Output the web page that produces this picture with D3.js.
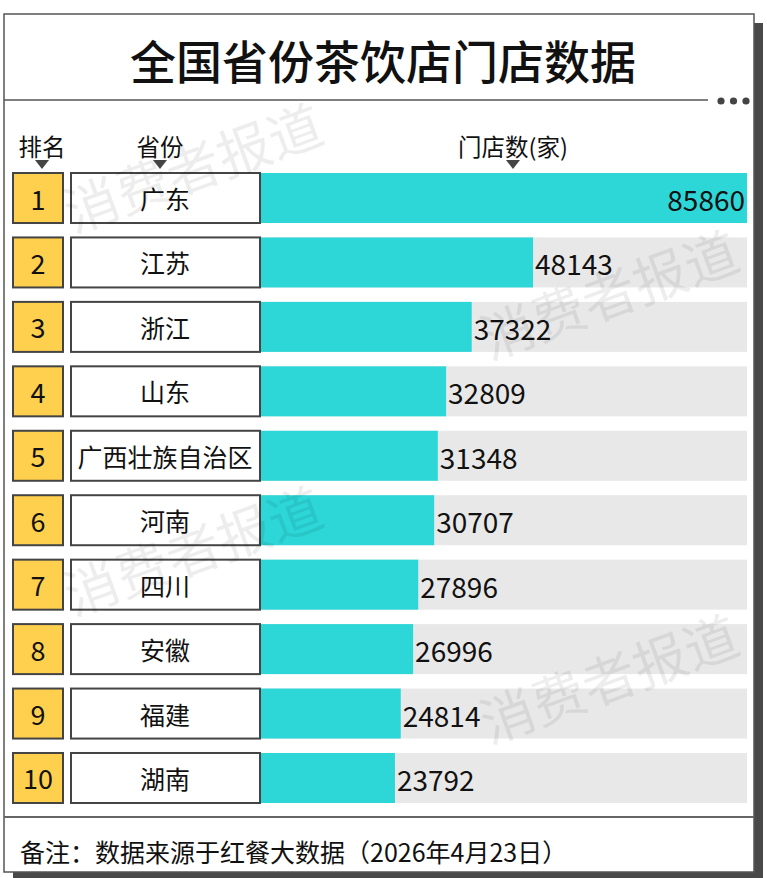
<!DOCTYPE html>
<html>
<head>
<meta charset="utf-8">
<script src="https://cdn.jsdelivr.net/npm/d3@7"></script>
<style>
  body { margin: 0; background: #fff; }
  svg { display: block; }
  text { font-family: "Noto Sans CJK SC", "Noto Sans", sans-serif; }
</style>
</head>
<body>
<script>
// data
const ranks = [1, 2, 3, 4, 5, 6, 7, 8, 9, 10]
const provinces = ["广东", "江苏", "浙江", "山东", "广西壮族自治区", "河南", "四川", "安徽", "福建", "湖南"]
const stores = [85860, 48143, 37322, 32809, 31348, 30707, 27896, 26996, 24814, 23792]
const headers = ["排名", "省份", "门店数(家)"]
const title = "全国省份茶饮店门店数据"
const note = "备注：数据来源于红餐大数据（2026年4月23日）"
const watermark = "消费者报道"

const w = 767
const h = 878

let svg = d3.select("body")
            .append("svg")
            .attr("width", w)
            .attr("height", h)

// card with shadow
svg.append("rect")
    .attr("x", 13).attr("y", 23)
    .attr("width", 750).attr("height", 855)
    .attr("fill", "#494949")
svg.append("rect")
    .attr("x", 4).attr("y", 14)
    .attr("width", 750).attr("height", 858)
    .attr("fill", "#fff")
    .attr("stroke", "#555")
    .attr("stroke-width", 1.5)

// title
svg.append("text")
    .text(title)
    .attr("x", 383).attr("y", 59)
    .attr("text-anchor", "middle")
    .attr("dominant-baseline", "central")
    .attr("font-size", 46)
    .attr("font-weight", 500)
    .attr("fill", "#111")

svg.append("line")
    .attr("x1", 4).attr("x2", 708)
    .attr("y1", 100).attr("y2", 100)
    .attr("stroke", "#555").attr("stroke-width", 1.5)

svg.selectAll("circle.dot")
    .data([0, 1, 2])
    .enter()
    .append("circle")
    .attr("class", "dot")
    .attr("cx", function(d) {return 721 + d*12.5})
    .attr("cy", 101)
    .attr("r", 3.6)
    .attr("fill", "#444")

// scales
const y = d3.scaleBand()
            .domain(ranks)
            .range([173, 803])
            .paddingInner(0.224)
            .paddingOuter(0)

const x = d3.scaleLinear()
            .domain([0, d3.max(stores)])
            .range([260, 747])

// column headers
const headerX = [42, 160, 513]
svg.selectAll("text.head")
    .data(headers)
    .enter()
    .append("text")
    .attr("class", "head")
    .text(function(d) {return d})
    .attr("x", function(d, i) {return headerX[i]})
    .attr("y", 146)
    .attr("text-anchor", "middle")
    .attr("dominant-baseline", "central")
    .attr("font-size", 23.5)
    .attr("fill", "#111")

svg.selectAll("path.tri")
    .data(headerX)
    .enter()
    .append("path")
    .attr("class", "tri")
    .attr("d", function(d) {return "M" + (d-7) + ",160 L" + (d+7) + ",160 L" + d + ",169 Z"})
    .attr("fill", "#444")

// rows
let row = svg.selectAll("g.row")
             .data(stores)
             .enter()
             .append("g")
             .attr("class", "row")

row.append("rect")
    .attr("x", x(0))
    .attr("y", function(d, i) {return y(ranks[i])})
    .attr("width", x.range()[1] - x(0))
    .attr("height", y.bandwidth())
    .attr("fill", "#e8e8e8")

row.append("rect")
    .attr("x", x(0))
    .attr("y", function(d, i) {return y(ranks[i])})
    .attr("width", function(d) {return x(d) - x(0)})
    .attr("height", y.bandwidth())
    .attr("fill", "#2dd6d7")

row.append("rect")
    .attr("x", 13)
    .attr("y", function(d, i) {return y(ranks[i])})
    .attr("width", 50)
    .attr("height", y.bandwidth())
    .attr("fill", "#ffd04e")
    .attr("stroke", "#444")
    .attr("stroke-width", 2)

row.append("rect")
    .attr("x", 71)
    .attr("y", function(d, i) {return y(ranks[i])})
    .attr("width", 189)
    .attr("height", y.bandwidth())
    .attr("fill", "#fff")
    .attr("stroke", "#444")
    .attr("stroke-width", 2)

row.append("text")
    .text(function(d, i) {return ranks[i]})
    .attr("x", 38)
    .attr("y", function(d, i) {return y(ranks[i]) + y.bandwidth()/2})
    .attr("text-anchor", "middle")
    .attr("dominant-baseline", "central")
    .attr("font-size", 27)
    .attr("fill", "#111")

row.append("text")
    .text(function(d, i) {return provinces[i]})
    .attr("x", 165)
    .attr("y", function(d, i) {return y(ranks[i]) + y.bandwidth()/2})
    .attr("text-anchor", "middle")
    .attr("dominant-baseline", "central")
    .attr("font-size", 25)
    .attr("fill", "#111")

row.append("text")
    .text(function(d) {return d})
    .attr("x", function(d, i) {return i == 0 ? x(d) - 2 : x(d) + 2})
    .attr("y", function(d, i) {return y(ranks[i]) + y.bandwidth()/2 + 1})
    .attr("text-anchor", function(d, i) {return i == 0 ? "end" : "start"})
    .attr("dominant-baseline", "central")
    .attr("font-size", 28)
    .attr("fill", "#111")

// footer
svg.append("line")
    .attr("x1", 4).attr("x2", 754)
    .attr("y1", 817).attr("y2", 817)
    .attr("stroke", "#666").attr("stroke-width", 2)

svg.append("text")
    .text(note)
    .attr("x", 20).attr("y", 851)
    .attr("dominant-baseline", "central")
    .attr("font-size", 25)
    .attr("fill", "#111")

// watermarks
const marks = [[192, 165], [608, 292], [192, 548], [608, 676]]
svg.selectAll("text.wm")
    .data(marks)
    .enter()
    .append("text")
    .attr("class", "wm")
    .text(watermark)
    .attr("transform", function(d) {return "translate(" + d[0] + "," + d[1] + ") rotate(-20)"})
    .attr("text-anchor", "middle")
    .attr("dominant-baseline", "central")
    .attr("font-size", 54)
    .attr("fill", "#000")
    .attr("fill-opacity", 0.07)
</script>
</body>
</html>
